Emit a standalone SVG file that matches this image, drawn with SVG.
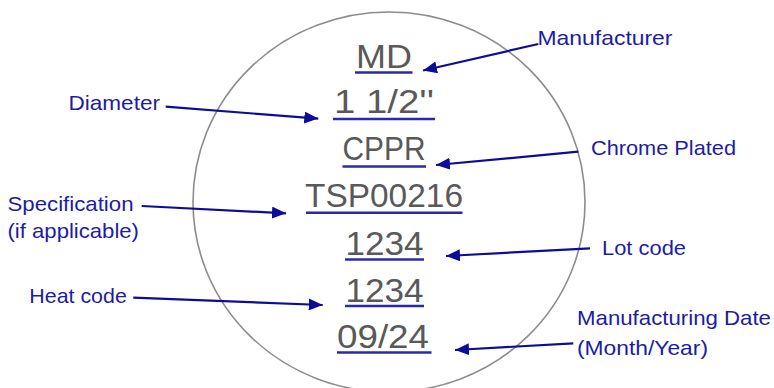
<svg xmlns="http://www.w3.org/2000/svg" width="774" height="388" viewBox="0 0 774 388">
<defs>
<style>
.mark{font-family:"Liberation Sans",Arial,sans-serif;font-size:33px;fill:#595959}
.lbl{font-family:"Liberation Sans",Arial,sans-serif;font-size:21px;fill:#1c1ca6}
.ul{stroke:#2a2aa8;stroke-width:2.4;fill:none}
.arr{stroke:#0c0c9a;stroke-width:2.2;fill:none;marker-end:url(#ah)}
</style>
<marker id="ah" markerUnits="userSpaceOnUse" viewBox="0 0 14 12" refX="14" refY="6" markerWidth="14" markerHeight="12" orient="auto">
<path d="M0,0 L14,6 L0,12 z" fill="#0c0c9a"/>
</marker>
</defs>
<rect width="774" height="388" fill="#ffffff"/>
<g id="disc">
<ellipse cx="389" cy="202" rx="196" ry="190" fill="none" stroke="#8c8c8c" stroke-width="1.6"/>
</g>
<g id="marking">
<g id="md"><text class="mark" x="356" y="68" textLength="56" lengthAdjust="spacingAndGlyphs">MD</text><line class="ul" x1="355" y1="72.5" x2="412.5" y2="72.5"/></g>
<g id="dia"><text class="mark" x="334" y="113" textLength="100" lengthAdjust="spacingAndGlyphs">1 1/2''</text><line class="ul" x1="333" y1="119" x2="435" y2="119"/></g>
<g id="cppr"><text class="mark" x="342.5" y="160" textLength="83" lengthAdjust="spacingAndGlyphs">CPPR</text><line class="ul" x1="342.5" y1="166.5" x2="426" y2="166.5"/></g>
<g id="spec"><text class="mark" x="305" y="207.3" textLength="158" lengthAdjust="spacingAndGlyphs">TSP00216</text><line class="ul" x1="306" y1="212.8" x2="462.5" y2="212.8"/></g>
<g id="lot"><text class="mark" x="345.5" y="255" textLength="78" lengthAdjust="spacingAndGlyphs">1234</text><line class="ul" x1="345" y1="259.5" x2="424" y2="259.5"/></g>
<g id="heat"><text class="mark" x="345.5" y="301.7" textLength="78" lengthAdjust="spacingAndGlyphs">1234</text><line class="ul" x1="345" y1="306" x2="424" y2="306"/></g>
<g id="date"><text class="mark" x="337" y="348.3" textLength="92" lengthAdjust="spacingAndGlyphs">09/24</text><line class="ul" x1="337" y1="352.5" x2="431.5" y2="352.5"/></g>
</g>
<g id="labels">
<g id="lbl-manufacturer"><text class="lbl" x="537.5" y="45" textLength="135" lengthAdjust="spacingAndGlyphs">Manufacturer</text></g>
<g id="lbl-diameter"><text class="lbl" x="68.5" y="110" textLength="91.5" lengthAdjust="spacingAndGlyphs">Diameter</text></g>
<g id="lbl-chrome"><text class="lbl" x="591" y="155" textLength="145" lengthAdjust="spacingAndGlyphs">Chrome Plated</text></g>
<g id="lbl-spec"><text class="lbl" x="7.5" y="210.7" textLength="126" lengthAdjust="spacingAndGlyphs">Specification</text><text class="lbl" x="7.5" y="238" textLength="131.5" lengthAdjust="spacingAndGlyphs">(if applicable)</text></g>
<g id="lbl-lot"><text class="lbl" x="602" y="255" textLength="84" lengthAdjust="spacingAndGlyphs">Lot code</text></g>
<g id="lbl-heat"><text class="lbl" x="29.3" y="303.3" textLength="97.5" lengthAdjust="spacingAndGlyphs">Heat code</text></g>
<g id="lbl-date"><text class="lbl" x="577" y="325" textLength="194" lengthAdjust="spacingAndGlyphs">Manufacturing Date</text><text class="lbl" x="577" y="355" textLength="131" lengthAdjust="spacingAndGlyphs">(Month/Year)</text></g>
</g>
<g id="connectors">
<line class="arr" x1="538.3" y1="44" x2="423" y2="70.5"/>
<line class="arr" x1="165.7" y1="106.7" x2="318.3" y2="118.6"/>
<line class="arr" x1="578.3" y1="151.7" x2="436" y2="165"/>
<line class="arr" x1="141.7" y1="206" x2="286" y2="213.3"/>
<line class="arr" x1="590" y1="248.3" x2="446" y2="256"/>
<line class="arr" x1="133.3" y1="297.7" x2="322.7" y2="305"/>
<line class="arr" x1="573.3" y1="343.3" x2="455" y2="350"/>
</g>
</svg>
